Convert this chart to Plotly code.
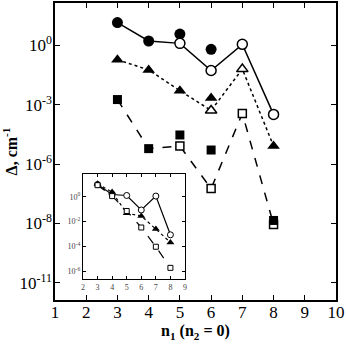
import plotly.graph_objects as go

# ---------------- data (main panel) ----------------
n_all = [3, 4, 5, 6, 7, 8]

# solid line (circles)
circ_line = [10**1.15, 10**0.22, 10**0.10, 10**-1.27, 10**0.05, 10**-3.49]
circ_open_x = [5, 6, 7, 8]
circ_open_y = [10**0.10, 10**-1.27, 10**0.05, 10**-3.49]
circ_fill_x = [3, 4, 5, 6]
circ_fill_y = [10**1.15, 10**0.22, 10**0.57, 10**-0.20]

# dotted line (triangles)
tri_line = [10**-0.73, 10**-1.24, 10**-2.29, 10**-3.29, 10**-1.20, 10**-5.09]
tri_open_x = [6, 7]
tri_open_y = [10**-3.29, 10**-1.20]
tri_fill_x = [3, 4, 5, 6, 8]
tri_fill_y = [10**-0.73, 10**-1.24, 10**-2.29, 10**-2.66, 10**-5.09]

# dashed line (squares)
sq_line = [10**-2.74, 10**-5.22, 10**-5.09, 10**-7.24, 10**-3.44, 10**-9.05]
sq_open_x = [5, 6, 7, 8]
sq_open_y = [10**-5.09, 10**-7.24, 10**-3.44, 10**-9.05]
sq_fill_x = [3, 4, 5, 6, 8]
sq_fill_y = [10**-2.74, 10**-5.22, 10**-4.53, 10**-5.29, 10**-8.85]

main_tickvals = [1, 1e-3, 1e-6, 1e-9, 1e-12]
main_ticktext = ["10<sup>0</sup>", "10<sup>-3</sup>", "10<sup>-6</sup>",
                 "10<sup>-8</sup>", "10<sup>-11</sup>"]

# ---------------- data (inset) ----------------
in_circ = [10**0.98, 10**0.18, 10**0.10, 10**-1.07, 10**0.05, 10**-3.07]
in_tri = [10**1.04, 10**0.37, 10**-1.33, 10**-1.55, 10**-2.61, 10**-3.68]
in_sq = [10**0.93, 10**0.05, 10**-1.15, 10**-2.48, 10**-4.03, 10**-5.73]
in_tickvals = [1, 1e-2, 1e-4, 1e-6]
in_ticktext = ["10<sup>0</sup>", "10<sup>-2</sup>", "10<sup>-4</sup>", "10<sup>-6</sup>"]

K = "black"
fig = go.Figure()

# main lines
fig.add_trace(go.Scatter(x=n_all, y=circ_line, mode="lines",
                         line=dict(color=K, width=1.5, dash="solid")))
fig.add_trace(go.Scatter(x=n_all, y=tri_line, mode="lines",
                         line=dict(color=K, width=1.5, dash="dot")))
fig.add_trace(go.Scatter(x=n_all, y=sq_line, mode="lines",
                         line=dict(color=K, width=1.5, dash="dash")))
# main markers
fig.add_trace(go.Scatter(x=circ_fill_x, y=circ_fill_y, mode="markers",
                         marker=dict(symbol="circle", size=11, color=K)))
fig.add_trace(go.Scatter(x=circ_open_x, y=circ_open_y, mode="markers",
                         marker=dict(symbol="circle", size=10, color="white",
                                     line=dict(color=K, width=1.5))))
fig.add_trace(go.Scatter(x=tri_fill_x, y=tri_fill_y, mode="markers",
                         marker=dict(symbol="triangle-up", size=11, color=K)))
fig.add_trace(go.Scatter(x=tri_open_x, y=tri_open_y, mode="markers",
                         marker=dict(symbol="triangle-up", size=10, color="white",
                                     line=dict(color=K, width=1.5))))
fig.add_trace(go.Scatter(x=sq_open_x, y=sq_open_y, mode="markers",
                         marker=dict(symbol="square", size=8, color="white",
                                     line=dict(color=K, width=1.5))))
fig.add_trace(go.Scatter(x=sq_fill_x, y=sq_fill_y, mode="markers",
                         marker=dict(symbol="square", size=9, color=K)))

# inset
fig.add_trace(go.Scatter(x=n_all, y=in_circ, mode="lines+markers", xaxis="x2", yaxis="y2",
                         line=dict(color=K, width=1.2),
                         marker=dict(symbol="circle", size=6, color="white",
                                     line=dict(color=K, width=1))))
fig.add_trace(go.Scatter(x=n_all, y=in_tri, mode="lines+markers", xaxis="x2", yaxis="y2",
                         line=dict(color=K, width=1.2, dash="dot"),
                         marker=dict(symbol="triangle-up", size=7, color=K)))
fig.add_trace(go.Scatter(x=n_all, y=in_sq, mode="lines+markers", xaxis="x2", yaxis="y2",
                         line=dict(color=K, width=1.2, dash="dash"),
                         marker=dict(symbol="square", size=5, color="white",
                                     line=dict(color=K, width=1))))

serif = "Times New Roman"
fig.update_layout(
    width=346, height=346,
    margin=dict(l=55, r=10, t=1, b=46),
    paper_bgcolor="white", plot_bgcolor="white",
    showlegend=False,
    font=dict(family=serif, color=K),
    xaxis=dict(range=[1, 10], tickvals=[1, 2, 3, 4, 5, 6, 7, 8, 9, 10],
               ticks="inside", ticklen=5, tickcolor=K, mirror="ticks",
               showline=True, linecolor=K, linewidth=1.5, showgrid=False, zeroline=False,
               tickfont=dict(size=17, family=serif), ticklabelstandoff=-4,
               title=dict(text="<b>n<sub>1</sub> (n<sub>2</sub> = 0)</b>",
                          font=dict(size=16, family=serif), standoff=4)),
    yaxis=dict(type="log", range=[-12.87, 2.14],
               tickvals=main_tickvals, ticktext=main_ticktext,
               ticks="inside", ticklen=5, tickcolor=K, mirror="ticks",
               showline=True, linecolor=K, linewidth=1.5, showgrid=False, zeroline=False,
               tickfont=dict(size=17, family=serif), ticklabelstandoff=-2,
               title=dict(text="<b>Δ, cm<sup>-1</sup></b>",
                          font=dict(size=16, family=serif), standoff=2)),
    xaxis2=dict(domain=[0.0996, 0.4626], anchor="y2", range=[2, 9],
                tickvals=[2, 3, 4, 5, 6, 7, 8, 9],
                ticks="inside", ticklen=3, tickcolor=K, mirror="ticks",
                showline=True, linecolor=K, linewidth=1.2, showgrid=False, zeroline=False,
                tickfont=dict(size=8, family=serif, color="#444")),
    yaxis2=dict(domain=[0.0702, 0.4247], anchor="x2", type="log", range=[-6.64, 1.84],
                tickvals=in_tickvals, ticktext=in_ticktext,
                ticks="inside", ticklen=3, tickcolor=K, mirror="ticks",
                showline=True, linecolor=K, linewidth=1.2, showgrid=False, zeroline=False,
                tickfont=dict(size=8, family=serif, color="#444")),
)

fig.write_html("out.html", config={"displayModeBar": False},
               post_script="document.body.style.margin='0';")
